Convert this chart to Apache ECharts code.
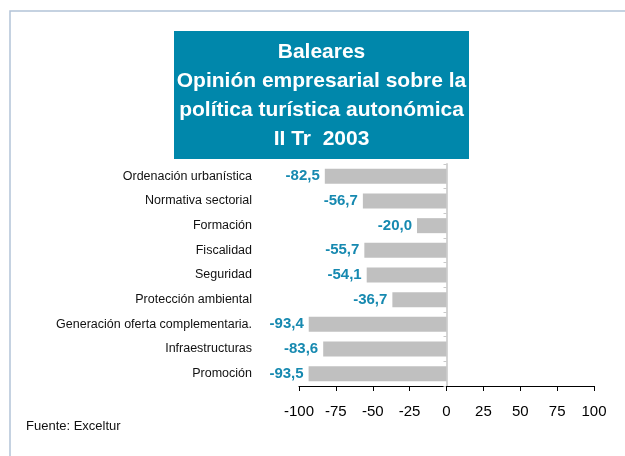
<!DOCTYPE html>
<html>
<head>
<meta charset="utf-8">
<script src="https://cdn.jsdelivr.net/npm/echarts@6/dist/echarts.min.js"></script>
<style>
  html, body { margin: 0; padding: 0; background: #fff; }
  #chart { width: 625px; height: 456px; }
</style>
</head>
<body>
<div id="chart"></div>
<script>
// categorias, de arriba a abajo
const categories = [
  'Ordenación urbanística',
  'Normativa sectorial',
  'Formación',
  'Fiscalidad',
  'Seguridad',
  'Protección ambiental',
  'Generación oferta complementaria.',
  'Infraestructuras',
  'Promoción'
];
const values = [-82.5, -56.7, -20.0, -55.7, -54.1, -36.7, -93.4, -83.6, -93.5];
const titleLines = ['Baleares', 'Opinión empresarial sobre la', 'política turística autonómica', 'II Tr  2003'];
const sourceText = 'Fuente: Exceltur';

const chart = echarts.init(document.getElementById('chart'));
const font = 'Liberation Sans, Arial, sans-serif';

const option = {
  animation: false,
  backgroundColor: '#fff',
  grid: {
    left: 299, right: 31, top: 164, bottom: 70,
    containLabel: false,
    outerBoundsMode: 'none'
  },
  xAxis: {
    type: 'value',
    min: -100,
    max: 100,
    interval: 25,
    axisLine: { show: true, onZero: false, lineStyle: { color: '#000', width: 1 } },
    axisTick: { show: true, length: 5, lineStyle: { color: '#000' } },
    axisLabel: {
      color: '#000', fontSize: 15, fontFamily: font, margin: 18,
      showMinLabel: true, showMaxLabel: true, hideOverlap: false
    },
    splitLine: { show: false }
  },
  yAxis: {
    type: 'category',
    data: categories,
    inverse: true,
    axisLine: { show: true, onZero: true, lineStyle: { color: '#d4d4d4', width: 2 } },
    axisTick: { show: true, length: 3, lineStyle: { color: '#c8c8c8' } },
    // las etiquetas quedan a la izquierda de la rejilla
    axisLabel: { color: '#111', fontSize: 12.5, fontFamily: font, margin: 47 }
  },
  series: [{
    type: 'bar',
    data: values,
    barWidth: 15,
    itemStyle: { color: '#c0c0c0' },
    label: {
      show: true,
      position: 'left',
      distance: 5,
      color: '#1689b0',
      fontWeight: 'bold',
      fontSize: 15,
      fontFamily: font,
      formatter: (p) => p.value.toFixed(1).replace('.', ',')
    }
  }],
  graphic: [
    {
      type: 'rect',
      shape: { x: 10, y: 11, width: 700, height: 600 },
      style: { fill: 'none', stroke: '#b3c3d8', lineWidth: 1.5 },
      silent: true
    },
    {
      type: 'rect',
      shape: { x: 174, y: 31, width: 295, height: 128 },
      style: { fill: '#0087ab' }
    },
    {
      type: 'text',
      x: 321.5,
      y: 38,
      style: {
        text: titleLines.join('\n'),
        fill: '#fff',
        font: 'bold 21px ' + font,
        lineHeight: 29,
        align: 'center',
        verticalAlign: 'top'
      }
    },
    {
      type: 'text',
      x: 26,
      y: 426,
      style: {
        text: sourceText,
        fill: '#111',
        font: '13px ' + font,
        verticalAlign: 'middle'
      }
    }
  ]
};
chart.setOption(option);
</script>
</body>
</html>
